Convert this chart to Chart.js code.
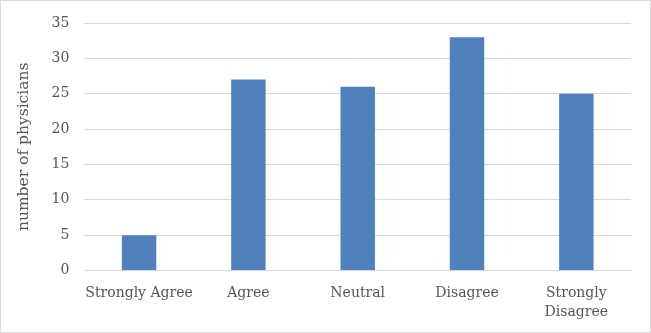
<!DOCTYPE html>
<html>
<head>
<meta charset="utf-8">
<script src="https://cdn.jsdelivr.net/npm/chart.js@4"></script>
<style>
  html, body { margin: 0; padding: 0; background: #fff; }
  #wrap { width: 651px; height: 333px; box-sizing: border-box; border: 1px solid #d9d9d9; position: relative; }
</style>
</head>
<body>
<div id="wrap"><canvas id="barChart"></canvas></div>
<script>
const categories = ['Strongly Agree', 'Agree', 'Neutral', 'Disagree', ['Strongly', 'Disagree']];
const physicians = [5, 27, 26, 33, 25];
const yTicks = { min: 0, max: 35, step: 5 };

Chart.defaults.font.family = '"DejaVu Serif", "Liberation Serif", serif';
Chart.defaults.color = '#555555';

new Chart(document.getElementById('barChart'), {
  type: 'bar',
  data: {
    labels: categories,
    datasets: [{
      data: physicians,
      backgroundColor: '#4f81bd',
      barPercentage: 0.63,
      categoryPercentage: 0.5,
    }],
  },
  options: {
    responsive: true,
    maintainAspectRatio: false,
    animation: false,
    layout: { padding: { left: 14, right: 19, top: 0, bottom: -3 } },
    plugins: { legend: { display: false }, tooltip: { enabled: false } },
    scales: {
      x: {
        grid: { display: false, drawTicks: false },
        border: { display: true, color: '#d9d9d9', width: 1 },
        ticks: { font: { size: 14, lineHeight: 1.3 }, padding: 14, maxRotation: 0, autoSkip: false },
      },
      y: {
        min: yTicks.min,
        max: yTicks.max,
        ticks: { stepSize: yTicks.step, font: { size: 14, lineHeight: 1.0 }, padding: 15 },
        grid: { color: '#d9d9d9', drawTicks: false },
        border: { display: false },
        title: { display: true, text: 'number of physicians', font: { size: 15.5 }, padding: { top: 0, bottom: 3 } },
      },
    },
  },
});
</script>
</body>
</html>
